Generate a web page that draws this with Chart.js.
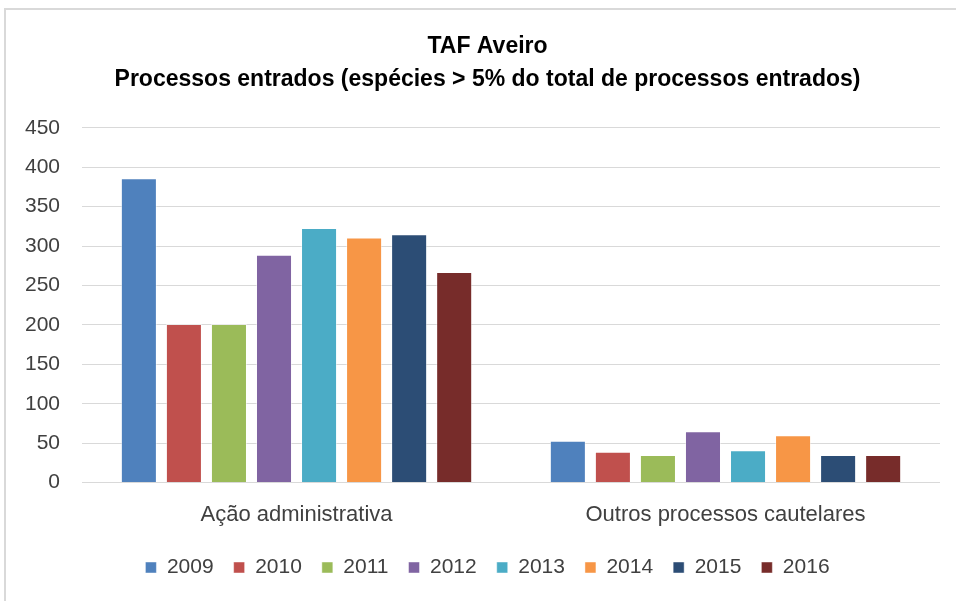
<!DOCTYPE html>
<html>
<head>
<meta charset="utf-8">
<script src="https://cdn.jsdelivr.net/npm/chart.js@4/dist/chart.umd.min.js"></script>
<style>
  html, body { margin: 0; padding: 0; background: #fff; }
  #frame {
    position: absolute; left: 4px; top: 8px; width: 980px; height: 620px;
    border-top: 2px solid #d9d9d9; border-left: 2px solid #d9d9d9;
  }
  #wrap { position: absolute; left: 0; top: 0; width: 956px; height: 601px; }
</style>
</head>
<body>
<div id="frame"></div>
<div id="wrap"><canvas id="chart"></canvas></div>
<script>
const categories = ['Ação administrativa', 'Outros processos cautelares'];
const years = ['2009', '2010', '2011', '2012', '2013', '2014', '2015', '2016'];
const acaoAdministrativa = [386, 201, 201, 289, 323, 311, 315, 267];
const outrosCautelares = [53, 39, 35, 65, 41, 60, 35, 35];
const yTicks = [0, 50, 100, 150, 200, 250, 300, 350, 400, 450];
const colors = ['#4F81BD', '#C0504D', '#9BBB59', '#8064A2', '#4BACC6', '#F79646', '#2C4D75', '#772C2A'];

const fontFamily = '"Liberation Sans", Arial, sans-serif';

const datasets = years.map((year, i) => ({
    label: year,
    data: [acaoAdministrativa[i], outrosCautelares[i]],
    backgroundColor: colors[i],
    borderColor: 'rgba(255,255,255,0.45)',
    borderWidth: 1,
    categoryPercentage: 0.84,
    barPercentage: 0.8
}));

// Excel centres title and legend a bit right of the canvas centre
const shiftBlocks = {
    id: 'shiftBlocks',
    afterLayout(chart) {
        [chart.titleBlock, chart.legend].forEach(box => {
            if (!box) return;
            box.left += 16;
            box.right += 16;
        });
    }
};

new Chart(document.getElementById('chart'), {
    type: 'bar',
    data: { labels: categories, datasets },
    plugins: [shiftBlocks],
    options: {
        responsive: true,
        maintainAspectRatio: false,
        animation: false,
        layout: { padding: { left: 3, right: 16, top: 0, bottom: 13 } },
        plugins: {
            title: {
                display: true,
                text: ['TAF Aveiro', 'Processos entrados (espécies > 5% do total de processos entrados)'],
                color: '#000',
                font: { family: fontFamily, size: 23, weight: 'bold', lineHeight: 1.43 },
                padding: { top: 30, bottom: 32 }
            },
            legend: {
                position: 'bottom',
                labels: {
                    color: '#404040',
                    font: { family: fontFamily, size: 21 },
                    boxWidth: 11,
                    boxHeight: 11,
                    padding: 20
                }
            },
            tooltip: { enabled: false }
        },
        scales: {
            x: {
                grid: { display: false },
                border: { display: false },
                ticks: {
                    color: '#404040',
                    font: { family: fontFamily, size: 22 },
                    padding: 11
                },
                afterFit: axis => { axis.height -= 2; }
            },
            y: {
                min: 0,
                max: 450,
                afterBuildTicks: axis => { axis.ticks = yTicks.map(v => ({ value: v })); },
                grid: { color: '#d9d9d9', lineWidth: 1, drawTicks: false },
                border: { display: false },
                ticks: {
                    color: '#404040',
                    font: { family: fontFamily, size: 21 },
                    padding: 22
                }
            }
        }
    }
});
</script>
</body>
</html>
